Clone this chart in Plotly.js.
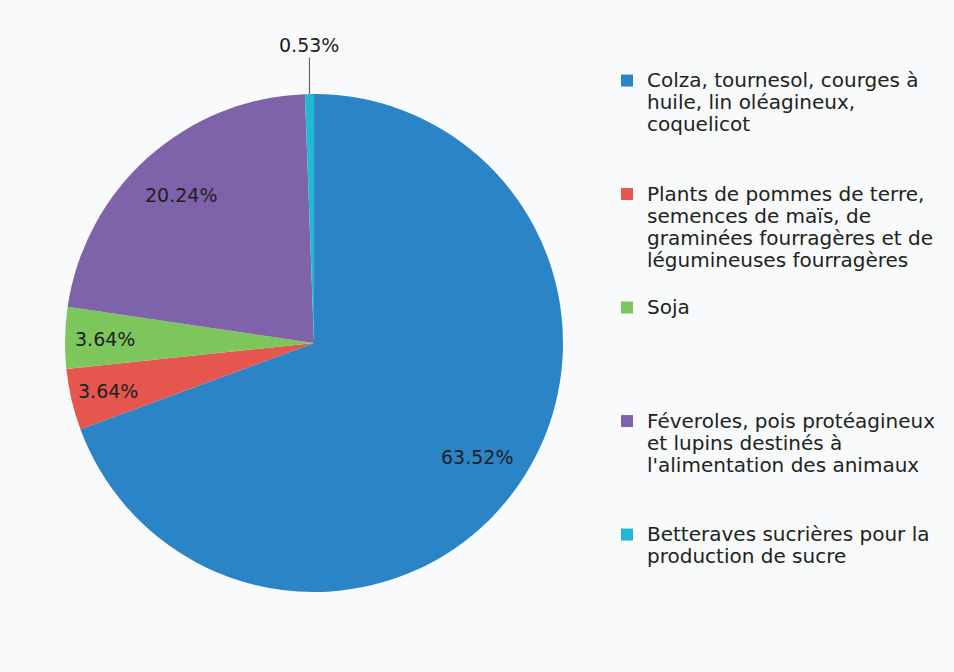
<!DOCTYPE html>
<html>
<head>
<meta charset="utf-8">
<script src="https://cdn.plot.ly/plotly-3.0.1.min.js"></script>
<style>html,body{margin:0;padding:0;background:#f8fafb;}#chart{width:954px;height:672px;}</style>
</head>
<body>
<div id="chart"></div>
<script>
// ---- data ----
var categories = [
  "Colza, tournesol, courges à<br>huile, lin oléagineux,<br>coquelicot",
  "Plants de pommes de terre,<br>semences de maïs, de<br>graminées fourragères et de<br>légumineuses fourragères",
  "Soja",
  "Féveroles, pois protéagineux<br>et lupins destinés à<br>l'alimentation des animaux",
  "Betteraves sucrières pour la<br>production de sucre"
];
var values = [63.52, 3.64, 3.64, 20.24, 0.53];
var valueLabels = ["63.52%", "3.64%", "3.64%", "20.24%", "0.53%"];

// ---- style ----
var colors = ["#2a84c6", "#e4564e", "#7dc65c", "#7e63aa", "#22b8d2"];
var labelRadius = [0.8, 0.85, 0.84, 0.8, 1.0];
var W = 954, H = 672;
var domX = [65 / W, 563 / W];
var domY = [80 / H, 578 / H];
var FONT = "DejaVu Sans, sans-serif";

// legend labels: larger glyphs, padded to equal line count
var legendLabels = categories.map(function (c) {
  var lines = c.split("<br>");
  var out = lines.map(function (l) { return '<span style="font-size:20px">' + l + '</span>'; });
  while (out.length < 5) out.push("\u00a0");
  return out.join("<br>");
});

var trace = {
  type: "pie",
  labels: legendLabels,
  values: values,
  sort: false,
  direction: "clockwise",
  rotation: 0,
  textinfo: "none",
  hoverinfo: "none",
  marker: { colors: colors, line: { width: 0 } },
  domain: { x: domX, y: domY }
};

// label annotations derived from values
var total = values.reduce(function (a, b) { return a + b; }, 0);
var cx = (domX[0] + domX[1]) / 2, cy = (domY[0] + domY[1]) / 2;
var rPx = Math.min((domX[1] - domX[0]) * W, (domY[1] - domY[0]) * H) / 2;
var annotations = [];
var cum = 0;
values.forEach(function (v, i) {
  var mid = (cum + v / 2) / total * 2 * Math.PI;
  cum += v;
  var f = labelRadius[i];
  var ax = cx + f * rPx * Math.sin(mid) / W;
  var ay = cy + f * rPx * Math.cos(mid) / H;
  var a = {
    xref: "paper", yref: "paper", x: ax, y: ay,
    text: valueLabels[i],
    font: { family: FONT, size: 19, color: "#1e1e24" },
    showarrow: false, xanchor: "center", yanchor: "middle"
  };
  if (i === values.length - 1) {
    a.showarrow = true; a.arrowhead = 0; a.arrowwidth = 1.2; a.arrowcolor = "#666";
    a.ax = 0; a.ay = -49; a.standoff = 0;
  }
  annotations.push(a);
});

var layout = {
  width: W, height: H,
  margin: { l: 0, r: 0, t: 0, b: 0 },
  paper_bgcolor: "#f8fafb",
  plot_bgcolor: "#f8fafb",
  showlegend: true,
  legend: {
    x: 607 / W, xanchor: "left",
    y: 1 - 63 / H, yanchor: "top",
    valign: "top",
    font: { family: FONT, size: 17, color: "#222222" },
    bgcolor: "rgba(0,0,0,0)",
    itemclick: false, itemdoubleclick: false
  },
  annotations: annotations
};

Plotly.newPlot("chart", [trace], layout, { displayModeBar: false, staticPlot: true });
</script>
</body>
</html>
